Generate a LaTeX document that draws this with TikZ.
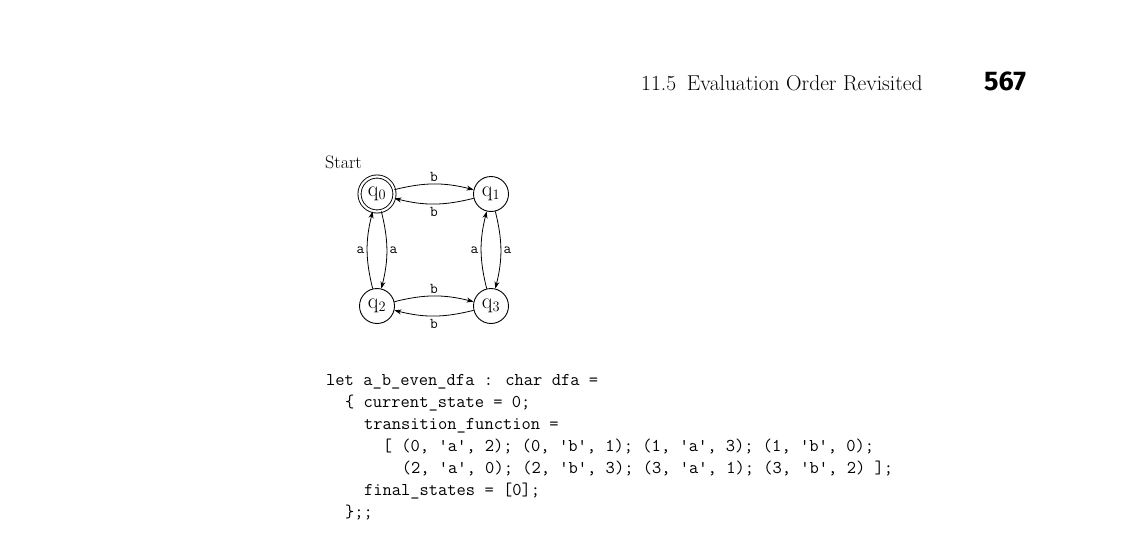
\documentclass[tikz,border=0pt]{standalone}
\usetikzlibrary{arrows.meta}
\usepackage{fontspec}
\newfontfamily\headsans{Fira Sans}
\begin{document}
\begin{tikzpicture}[x=1pt,y=-1pt,
  state/.style={circle,draw,line width=0.9pt,minimum size=35pt,inner sep=0pt,font=\fontsize{22}{24}\selectfont},
  edge/.style={-{Stealth[length=7pt,width=5pt]},line width=0.8pt},
  lbl/.style={font=\ttfamily\fontsize{15}{16}\selectfont,inner sep=2.5pt},
  codeline/.style={anchor=base west,inner sep=0pt,font=\ttfamily\fontsize{18}{22}\selectfont},
  head/.style={anchor=base west,inner sep=0pt}]
\useasboundingbox (0,0) rectangle (1128,538);

% running head
\node[head,font=\fontsize{21.5}{24}\selectfont] (title) at (641,90) {11.5\hspace{0.5em}Evaluation Order Revisited};
\node[head,font=\headsans\bfseries\fontsize{27}{28}\selectfont] (page) at (984,90) {567};

% automaton
\node[state,double,double distance=2.2pt] (q0) at (377,194) {q$_0$};
\node[state] (q1) at (491,194) {q$_1$};
\node[state] (q2) at (377,306) {q$_2$};
\node[state] (q3) at (491,306) {q$_3$};
\node[anchor=base west,inner sep=0pt,font=\fontsize{18}{20}\selectfont] (start) at (325,168) {Start};

\draw[edge] (q0) to[bend left=14] node[lbl,above] {b} (q1);
\draw[edge] (q1) to[bend left=14] node[lbl,below] {b} (q0);
\draw[edge] (q2) to[bend left=14] node[lbl,above] {b} (q3);
\draw[edge] (q3) to[bend left=14] node[lbl,below] {b} (q2);
\draw[edge] (q0) to[bend left=14] node[lbl,right] {a} (q2);
\draw[edge] (q2) to[bend left=14] node[lbl,left] {a} (q0);
\draw[edge] (q1) to[bend left=14] node[lbl,right] {a} (q3);
\draw[edge] (q3) to[bend left=14] node[lbl,left] {a} (q1);

% OCaml source
\def\cw{9.45}
\node[codeline] (c1) at (326,385) {let a\_b\_even\_dfa : char dfa =};
\node[codeline] (c2) at (326+2*\cw,407) {\{ current\_state = 0;};
\node[codeline] (c3) at (326+4*\cw,429) {transition\_function =};
\node[codeline] (c4) at (326+6*\cw,451) {[ (0, 'a', 2); (0, 'b', 1); (1, 'a', 3); (1, 'b', 0);};
\node[codeline] (c5) at (326+8*\cw,473) {(2, 'a', 0); (2, 'b', 3); (3, 'a', 1); (3, 'b', 2) ];};
\node[codeline] (c6) at (326+4*\cw,495) {final\_states = [0];};
\node[codeline] (c7) at (326+2*\cw,517) {\};;};
\end{tikzpicture}
\end{document}
